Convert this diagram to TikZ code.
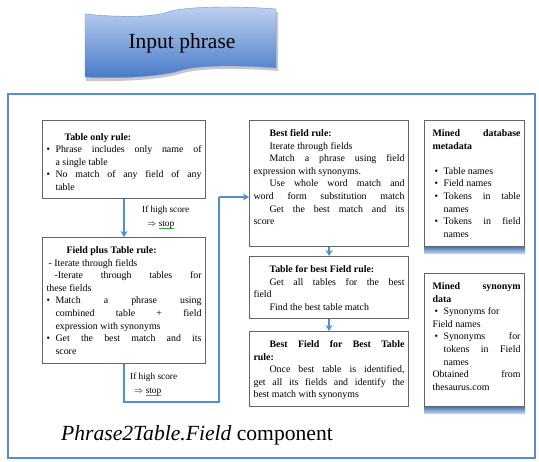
\documentclass[tikz,border=0pt]{standalone}
\usepackage{fontspec}
\setmainfont{Liberation Serif}
\usetikzlibrary{arrows.meta,shadows}

\definecolor{framec}{RGB}{91,140,206}
\definecolor{arrowc}{RGB}{82,142,212}
\definecolor{boxc}{RGB}{100,100,100}
\definecolor{bantop}{RGB}{190,210,240}
\definecolor{banbot}{RGB}{70,120,200}
\definecolor{grn}{RGB}{60,170,60}

% justified line, optional left indent
\newcommand{\jl}[2][0pt]{\hspace*{#1}\makebox[\dimexpr\linewidth-#1\relax][s]{#2}}
% justified bullet line
\newcommand{\bl}[2][0pt]{\hspace*{#1}\makebox[9pt][l]{\textbullet}\makebox[\dimexpr\linewidth-#1-9pt\relax][s]{#2}}
% plain bullet line
\newcommand{\pb}[2][0pt]{\hspace*{#1}\makebox[9pt][l]{\textbullet}#2}
% text block of a rule box: width, height, lines
\newcommand{\boxtext}[3]{\parbox[c][#2][t]{#1}{\fontsize{9.9}{12.6}\selectfont\rule{0pt}{11.5pt}#3}}
% word with a green proofing underline
\newsavebox\wordbox
\newcommand{\squig}[1]{\sbox\wordbox{#1}\rlap{\color{grn}\rule[-2pt]{\wd\wordbox}{0.7pt}}\usebox\wordbox}

\begin{document}
\begin{tikzpicture}[x=1pt,y=-1pt,
  rulebox/.style={draw=boxc, line width=1.1pt, fill=white, inner xsep=4pt, inner ysep=4.5pt,
    anchor=north west, drop shadow={shadow xshift=0.8pt,shadow yshift=-0.8pt,opacity=.25}},
  flow/.style={arrowc, line width=1.6pt, -{Stealth[length=6pt,width=7pt]}},
  link/.style={arrowc, line width=1.6pt},
  note/.style={font=\fontsize{9.3}{13.5}\selectfont, align=left, inner sep=0pt, anchor=north west},
  bar/.style={top color=arrowc!90!black, bottom color=arrowc!35}]

\useasboundingbox (0,0) rectangle (539,462);

% banner
\fill[black,opacity=.22] (86,17) .. controls (116,20) and (151,21) .. (169,15) .. controls (186,9) and (241,9) .. (278,12)
  -- (278,71) .. controls (241,68) and (201,68) .. (183,73) .. controls (166,79) and (126,82) .. (86,81) -- cycle;
\shade[top color=bantop, bottom color=banbot, draw=banbot!80, line width=0.4pt]
  (85,14) .. controls (115,17) and (150,18) .. (168,12) .. controls (185,6) and (240,6) .. (276,9)
  -- (276,68) .. controls (240,65) and (200,65) .. (182,70) .. controls (165,76) and (125,79) .. (85,77) -- cycle;
\node[anchor=base, inner sep=0pt, font=\fontsize{21.5}{25}\selectfont] (inp) at (182,49) {Input phrase};

% component frame
\node[draw=framec, line width=1.6pt, fill=white, minimum width=527pt, minimum height=364pt,
  anchor=north west, drop shadow={shadow xshift=1.2pt,shadow yshift=-1.2pt,opacity=.3}] (frame) at (7,93) {};

% left column
\node[rulebox] (tor) at (42,120) {\boxtext{155pt}{69pt}{%
  \rule{0pt}{15pt}\textbf{\hspace*{18pt}Table only rule:}\\
  \bl{Phrase includes only name of}\\
  \hspace*{9pt}a single table\\
  \bl{No match of any field of any}\\
  \hspace*{9pt}table}};

\node[rulebox] (fpt) at (42,237) {\boxtext{155pt}{117pt}{%
  \textbf{\hspace*{20pt}Field plus Table rule:}\\
  \hspace*{2pt}- Iterate through fields\\
  \jl[8pt]{-Iterate through tables for}\\
  these fields\\
  \bl{Match a phrase using}\\
  \jl[9pt]{combined table + field}\\
  \hspace*{9pt}expression with synonyms\\
  \bl{Get the best match and its}\\
  \hspace*{9pt}score}};

% middle column
\node[rulebox] (bfr) at (249,120) {\boxtext{151pt}{117pt}{%
  \textbf{\hspace*{16pt}Best field rule:}\\
  \hspace*{16pt}Iterate through fields\\
  \jl[16pt]{Match a phrase using field}\\
  expression with synonyms.\\
  \jl[16pt]{Use whole word match and}\\
  \jl{word form substitution match}\\
  \jl[16pt]{Get the best match and its}\\
  score}};

\node[rulebox] (tbf) at (249,256) {\boxtext{151pt}{53pt}{%
  \textbf{\hspace*{16pt}Table for best Field rule:}\\
  \jl[16pt]{Get all tables for the best}\\
  field\\
  \hspace*{16pt}Find the best table match}};

\node[rulebox] (bfbt) at (249,331) {\boxtext{151pt}{66pt}{%
  \textbf{\jl[16pt]{Best Field for Best Table}}\\
  \textbf{rule:}\\
  \jl[16pt]{Once best table is identified,}\\
  \jl{get all its fields and identify the}\\
  best match with synonyms}};

% right column
\node[rulebox] (mdm) at (424,120) {\boxtext{92pt}{117pt}{%
  \textbf{\jl[4pt]{Mined database}}\\
  \hspace*{4pt}\textbf{metadata}\\[12.6pt]
  \pb[6pt]{Table names}\\
  \pb[6pt]{Field names}\\
  \bl[6pt]{Tokens in table}\\
  \hspace*{15pt}names\\
  \bl[6pt]{Tokens in field}\\
  \hspace*{15pt}names}};
\shade[bar] (mdm.south west) rectangle ([yshift=-6.5pt]mdm.south east);

\node[rulebox] (msd) at (424,273) {\boxtext{92pt}{124pt}{%
  \textbf{\jl[4pt]{Mined synonym}}\\
  \hspace*{4pt}\textbf{data}\\
  \pb[6pt]{Synonyms for}\\
  \hspace*{4pt}Field names\\
  \bl[6pt]{Synonyms for}\\
  \jl[15pt]{tokens in Field}\\
  \hspace*{15pt}names\\
  \jl[4pt]{Obtained from}\\
  \hspace*{4pt}thesaurus.com}};
\shade[bar] (msd.south west) rectangle ([yshift=-6.5pt]msd.south east);

% connectors
\draw[flow] (tor.south) -- (fpt.north);
\node[note] (hs1) at (142,206) {If high score\\\hspace*{5pt}$\Rightarrow$ \squig{stop}};

\coordinate (c1) at (fpt.south |- 0,402);
\coordinate (c2) at (219,402);
\coordinate (c3) at (219,197);
\draw[link] (fpt.south) -- (c1) -- (c2) -- (c3);
\draw[flow] (c3) -- (c3 -| bfr.west);
\node[note] (hs2) at (130,373) {If high score\\\hspace*{4pt}$\Rightarrow$ \squig{stop}};

\draw[flow] (bfr.south) -- (tbf.north);
\draw[flow] (tbf.south) -- (bfbt.north);

% caption
\node[anchor=base west, inner sep=0pt, font=\fontsize{21.6}{25}\selectfont] (cap) at (61,441)
  {\textit{Phrase2Table.Field} component};

\end{tikzpicture}
\end{document}
